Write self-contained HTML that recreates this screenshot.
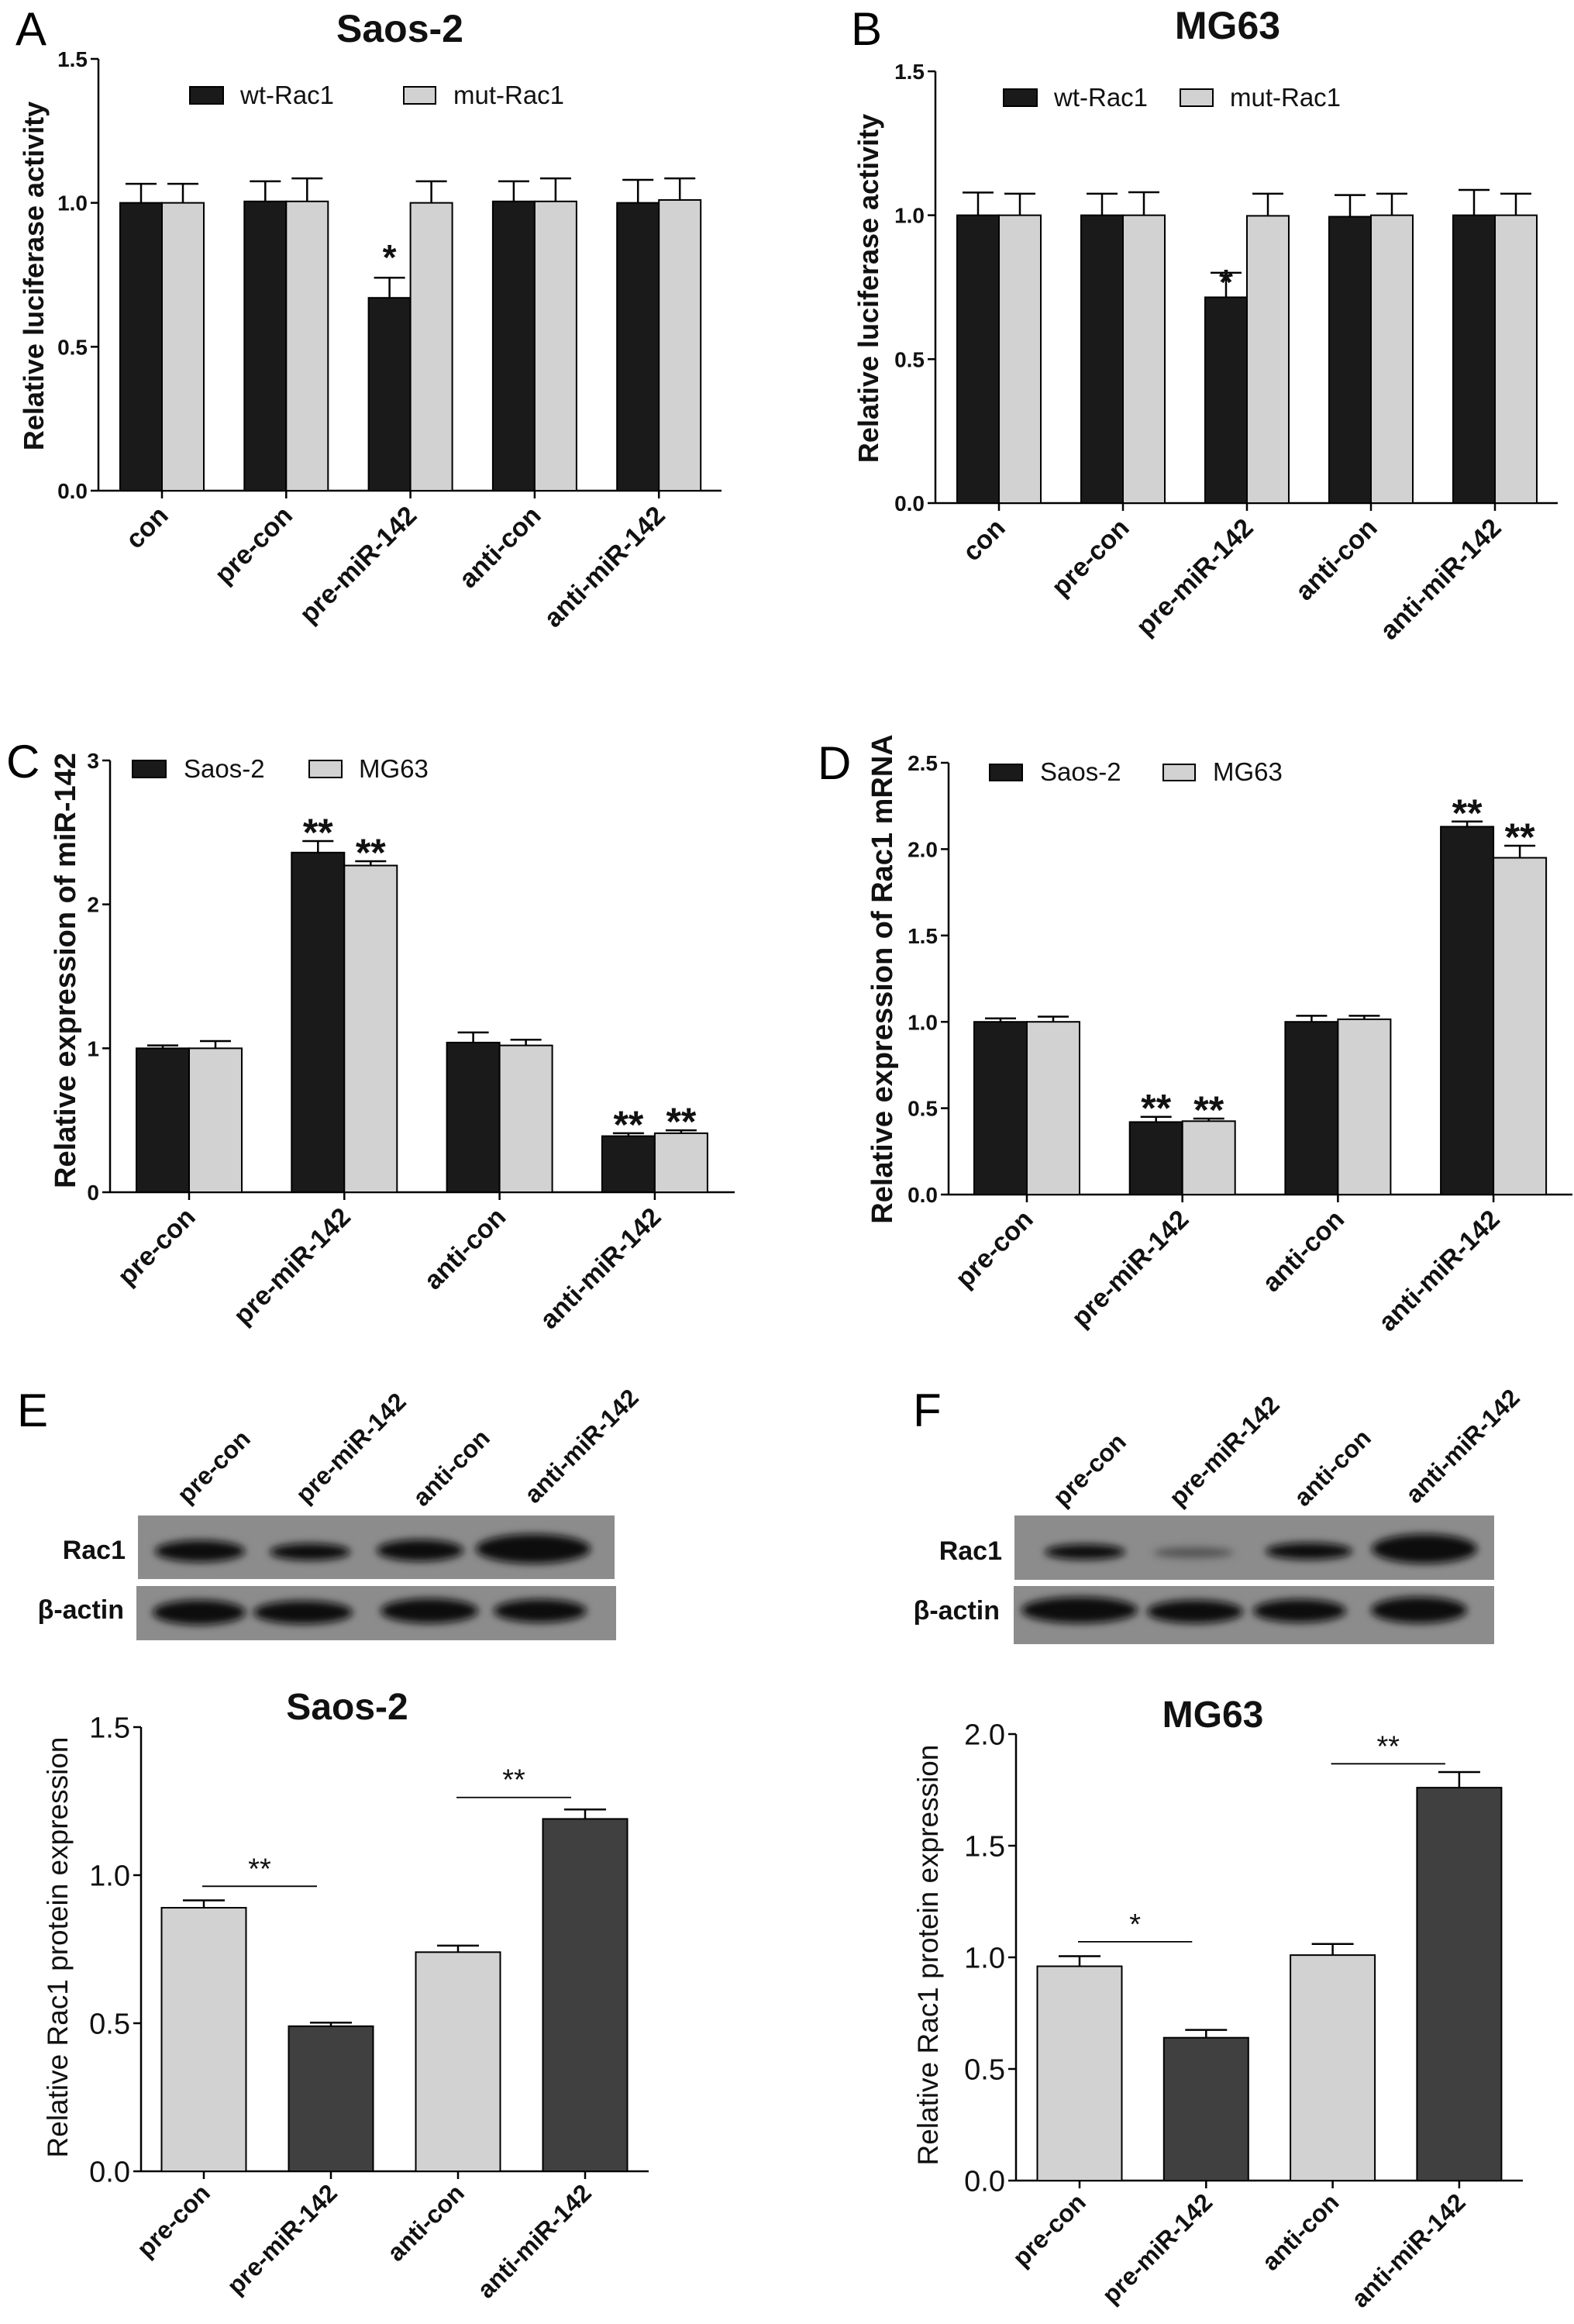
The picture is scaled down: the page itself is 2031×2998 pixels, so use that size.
<!DOCTYPE html>
<html><head><meta charset="utf-8"><style>
html,body{margin:0;padding:0;background:#fff;}
svg{display:block;}
text{font-family:"Liberation Sans",Arial,sans-serif;}
</style></head><body>
<svg id="fig" width="2031" height="2998" viewBox="0 0 2031 2998" xmlns="http://www.w3.org/2000/svg">
<defs><filter id="blur" x="-20%" y="-50%" width="140%" height="200%"><feGaussianBlur stdDeviation="5"/></filter></defs>
<g id="blots">
  <g>
    <rect x="178" y="1955" width="615" height="82" fill="#8c8c8c"/>
    <rect x="176" y="2046" width="619" height="70" fill="#8c8c8c"/>
    <g filter="url(#blur)" fill="#0a0a0a">
      <ellipse cx="258" cy="2001" rx="58" ry="14"/><ellipse cx="400" cy="2002" rx="52" ry="11"/><ellipse cx="542" cy="2000" rx="56" ry="14"/><ellipse cx="688" cy="1998" rx="74" ry="19"/>
      <ellipse cx="257" cy="2080" rx="60" ry="16"/><ellipse cx="391" cy="2080" rx="64" ry="15"/><ellipse cx="554" cy="2078" rx="63" ry="16"/><ellipse cx="697" cy="2078" rx="60" ry="15"/>
    </g>
  </g>
  <g>
    <rect x="1309" y="1955" width="619" height="83" fill="#8c8c8c"/>
    <rect x="1308" y="2046" width="620" height="75" fill="#8c8c8c"/>
    <g filter="url(#blur)" fill="#0a0a0a">
      <ellipse cx="1400" cy="2002" rx="52" ry="10"/><ellipse cx="1540" cy="2003" rx="52" ry="7" fill="#555"/><ellipse cx="1689" cy="2001" rx="56" ry="11"/><ellipse cx="1838" cy="1998" rx="68" ry="19"/>
      <ellipse cx="1393" cy="2077" rx="75" ry="17"/><ellipse cx="1542" cy="2079" rx="62" ry="15"/><ellipse cx="1677" cy="2078" rx="60" ry="15"/><ellipse cx="1831" cy="2077" rx="62" ry="17"/>
    </g>
  </g>
</g>
</svg>
<script>
// ---- data ----
const catsA = ["con","pre-con","pre-miR-142","anti-con","anti-miR-142"];
const wtA = [1.0, 1.005, 0.67, 1.005, 1.0];
const wtErrA = [1.066, 1.075, 0.74, 1.075, 1.08];
const mutA = [1.0, 1.005, 1.0, 1.005, 1.01];
const mutErrA = [1.066, 1.085, 1.075, 1.085, 1.085];
const starsA = ["", "", "*", "", ""];
const ticksA = [0, 0.5, 1.0, 1.5];
const tickLabelsA = ["0.0","0.5","1.0","1.5"];

const catsB = ["con","pre-con","pre-miR-142","anti-con","anti-miR-142"];
const wtB = [1.0, 1.0, 0.715, 0.995, 1.0];
const wtErrB = [1.079, 1.075, 0.80, 1.07, 1.088];
const mutB = [1.0, 1.0, 0.998, 1.0, 1.0];
const mutErrB = [1.075, 1.08, 1.075, 1.075, 1.075];
const starsB = ["", "", "*", "", ""];
const ticksB = [0, 0.5, 1.0, 1.5];
const tickLabelsB = ["0.0","0.5","1.0","1.5"];

const catsC = ["pre-con","pre-miR-142","anti-con","anti-miR-142"];
const saosC = [1.0, 2.36, 1.04, 0.39];
const saosErrC = [1.02, 2.44, 1.11, 0.41];
const mgC = [1.0, 2.27, 1.02, 0.41];
const mgErrC = [1.05, 2.30, 1.06, 0.43];
const starsSaosC = ["", "**", "", "**"];
const starsMgC = ["", "**", "", "**"];
const ticksC = [0, 1, 2, 3];
const tickLabelsC = ["0","1","2","3"];

const catsD = ["pre-con","pre-miR-142","anti-con","anti-miR-142"];
const saosD = [1.0, 0.42, 1.0, 2.13];
const saosErrD = [1.02, 0.45, 1.035, 2.16];
const mgD = [1.0, 0.425, 1.015, 1.95];
const mgErrD = [1.03, 0.44, 1.035, 2.02];
const starsSaosD = ["", "**", "", "**"];
const starsMgD = ["", "**", "", "**"];
const ticksD = [0, 0.5, 1.0, 1.5, 2.0, 2.5];
const tickLabelsD = ["0.0","0.5","1.0","1.5","2.0","2.5"];

const catsE = ["pre-con","pre-miR-142","anti-con","anti-miR-142"];
const valsE = [0.89, 0.49, 0.74, 1.19];
const errE = [0.915, 0.502, 0.762, 1.222];
const bracketsE = [[0, 1, 0.9625, "**"], [2, 3, 1.2625, "**"]];
const ticksE = [0, 0.5, 1.0, 1.5];
const tickLabelsE = ["0.0","0.5","1.0","1.5"];

const catsF = ["pre-con","pre-miR-142","anti-con","anti-miR-142"];
const valsF = [0.96, 0.64, 1.01, 1.76];
const errF = [1.005, 0.675, 1.06, 1.83];
const bracketsF = [[0, 1, 1.07, "*"], [2, 3, 1.867, "**"]];
const ticksF = [0, 0.5, 1.0, 1.5, 2.0];
const tickLabelsF = ["0.0","0.5","1.0","1.5","2.0"];

const laneLabels = ["pre-con","pre-miR-142","anti-con","anti-miR-142"];

// ---- helpers ----
const NS = "http://www.w3.org/2000/svg";
const svg = document.getElementById("fig");
function mk(tag, attrs, parent, txt) {
  const e = document.createElementNS(NS, tag);
  for (const k in attrs) e.setAttribute(k, attrs[k]);
  if (txt !== undefined) e.textContent = txt;
  (parent || svg).appendChild(e);
  return e;
}

function drawChart(c) {
  const g = mk("g", {});
  
  
  const yScale = v => c.y0 - (v / c.ymax) * (c.y0 - c.yTop);
  const xScale = i => c.c0 + i * c.step;
  const ya = mk("line", {x1: c.x0, y1: c.yTop, x2: c.x0, y2: c.y0 + 1, stroke: "#000", "stroke-width": 2.5}, g);
  
  
  const xa = mk("line", {x1: c.x0, y1: c.y0, x2: c.xEnd, y2: c.y0, stroke: "#000", "stroke-width": 2.5}, g);
  
  
  c.ticks.forEach((t, i) => {
    const y = yScale(t);
    mk("line", {x1: c.x0 - 10, y1: y, x2: c.x0, y2: y, stroke: "#000", "stroke-width": 2.5}, g);
    const tl = mk("text", {x: c.x0 - 14, y: y + c.tickFs * 0.36, "font-size": c.tickFs, "font-weight": c.tickBold ? "bold" : "normal", "text-anchor": "end", fill: "#111"}, g, c.tickLabels[i]);
    
    
  });
  const bw = c.bw;
  c.series.forEach((s, si) => {
    s.vals.forEach((v, i) => {
      let bx;
      if (c.series.length === 2) bx = si === 0 ? xScale(i) - bw : xScale(i);
      else bx = xScale(i) - bw / 2;
      const fill = s.colors ? s.colors[i % s.colors.length] : s.color;
      const cx = bx + bw / 2;
      const et = yScale(s.err[i]);
      mk("line", {x1: cx, y1: yScale(v), x2: cx, y2: et, stroke: "#000", "stroke-width": 2.5}, g);
      mk("line", {x1: cx - c.capW / 2, y1: et, x2: cx + c.capW / 2, y2: et, stroke: "#000", "stroke-width": 2.5}, g);
      const r = mk("rect", {x: bx, y: yScale(v), width: bw, height: c.y0 - yScale(v), fill: fill, stroke: "#000", "stroke-width": 2}, g);
      
      
      if (s.stars && s.stars[i]) {
        const st = mk("text", {x: cx, y: et + c.starDy, "font-size": c.starFs, "font-weight": "bold", "text-anchor": "middle", fill: "#111"}, g, s.stars[i]);
        
        
      }
    });
  });
  c.cats.forEach((cat, i) => {
    const x = xScale(i);
    mk("line", {x1: x, y1: c.y0, x2: x, y2: c.y0 + 10, stroke: "#000", "stroke-width": 2.5}, g);
    const lx = x + c.lblDx, ly = c.y0 + c.lblDy;
    const t = mk("text", {x: lx, y: ly, "font-size": c.lblFs, "font-weight": "bold", "text-anchor": "end", fill: "#111", transform: "rotate(-45 " + lx + " " + ly + ")"}, g, cat);
    
    
  });
  (c.brackets || []).forEach(b => {
    const y = yScale(b[2]);
    const x1 = xScale(b[0]) - 2, x2 = xScale(b[1]) - 18;
    const l = mk("line", {x1: x1, y1: y, x2: x2, y2: y, stroke: "#000", "stroke-width": 1.8}, g);
    
    
    const bt = mk("text", {x: (x1 + x2) / 2, y: y - 10, "font-size": 38, "text-anchor": "middle", fill: "#111"}, g, b[3]);
    
    
  });
  const yt = mk("text", {x: c.ytX, y: c.ytY, "font-size": c.ytFs, "font-weight": c.ytBold ? "bold" : "normal", "text-anchor": "middle", fill: "#111", transform: "rotate(-90 " + c.ytX + " " + c.ytY + ")"}, g, c.ytitle);
  
  
  if (c.title) {
    const tt = mk("text", {x: c.titleX, y: c.titleY, "font-size": c.titleFs, "font-weight": "bold", "text-anchor": "middle", fill: "#111"}, g, c.title);
    
    
  }
  (c.legend || []).forEach(L => {
    const lr = mk("rect", {x: L.x, y: L.y, width: L.w, height: L.h, fill: L.color, stroke: "#000", "stroke-width": 2}, g);
    
    
    const lt = mk("text", {x: L.tx, y: L.y + L.h, "font-size": L.fs, fill: "#111"}, g, L.label);
    
    
  });
  const pl = mk("text", {x: c.letterX, y: c.letterY, "font-size": 60, fill: "#000"}, g, c.letter);
  
  
}

const BLACK = "#1a1a1a", LIGHT = "#d2d2d2", DARK = "#404040";

drawChart({name: "chart-a", letter: "A", letterX: 20, letterY: 58, x0: 127, xEnd: 931, y0: 633, yTop: 76, ymax: 1.5,
  ticks: ticksA, tickLabels: tickLabelsA, tickFs: 28, tickBold: true, cats: catsA, c0: 209, step: 160.3, bw: 54, capW: 40,
  series: [{key: "wt", vals: wtA, err: wtErrA, color: BLACK, stars: starsA}, {key: "mut", vals: mutA, err: mutErrA, color: LIGHT}],
  starFs: 46, starDy: -10, lblFs: 34, lblDx: 10, lblDy: 34,
  ytitle: "Relative luciferase activity", ytX: 56, ytY: 356, ytFs: 36, ytBold: true,
  title: "Saos-2", titleX: 516, titleY: 54, titleFs: 50,
  legend: [{x: 245, y: 112, w: 43, h: 22, color: BLACK, tx: 310, label: "wt-Rac1", fs: 33}, {x: 521, y: 112, w: 41, h: 22, color: LIGHT, tx: 585, label: "mut-Rac1", fs: 33}]});

drawChart({name: "chart-b", letter: "B", letterX: 1098, letterY: 58, x0: 1207, xEnd: 2010, y0: 649, yTop: 92, ymax: 1.5,
  ticks: ticksB, tickLabels: tickLabelsB, tickFs: 28, tickBold: true, cats: catsB, c0: 1289, step: 160, bw: 54, capW: 40,
  series: [{key: "wt", vals: wtB, err: wtErrB, color: BLACK, stars: starsB}, {key: "mut", vals: mutB, err: mutErrB, color: LIGHT}],
  starFs: 46, starDy: 28, lblFs: 34, lblDx: 10, lblDy: 34,
  ytitle: "Relative luciferase activity", ytX: 1133, ytY: 372, ytFs: 36, ytBold: true,
  title: "MG63", titleX: 1584, titleY: 50, titleFs: 50,
  legend: [{x: 1295, y: 115, w: 43, h: 22, color: BLACK, tx: 1360, label: "wt-Rac1", fs: 33}, {x: 1523, y: 115, w: 42, h: 22, color: LIGHT, tx: 1587, label: "mut-Rac1", fs: 33}]});

drawChart({name: "chart-c", letter: "C", letterX: 8, letterY: 1003, x0: 142, xEnd: 948, y0: 1538, yTop: 981, ymax: 3,
  ticks: ticksC, tickLabels: tickLabelsC, tickFs: 28, tickBold: true, cats: catsC, c0: 244, step: 200.3, bw: 68, capW: 40,
  series: [{key: "saos", vals: saosC, err: saosErrC, color: BLACK, stars: starsSaosC}, {key: "mg63", vals: mgC, err: mgErrC, color: LIGHT, stars: starsMgC}],
  starFs: 50, starDy: 6, lblFs: 34, lblDx: 10, lblDy: 34,
  ytitle: "Relative expression of miR-142", ytX: 97, ytY: 1252, ytFs: 38, ytBold: true,
  legend: [{x: 171, y: 981, w: 43, h: 22, color: BLACK, tx: 237, label: "Saos-2", fs: 33}, {x: 399, y: 981, w: 42, h: 22, color: LIGHT, tx: 463, label: "MG63", fs: 33}]});

drawChart({name: "chart-d", letter: "D", letterX: 1055, letterY: 1005, x0: 1224, xEnd: 2029, y0: 1541, yTop: 984, ymax: 2.5,
  ticks: ticksD, tickLabels: tickLabelsD, tickFs: 28, tickBold: true, cats: catsD, c0: 1325, step: 200.7, bw: 68, capW: 40,
  series: [{key: "saos", vals: saosD, err: saosErrD, color: BLACK, stars: starsSaosD}, {key: "mg63", vals: mgD, err: mgErrD, color: LIGHT, stars: starsMgD}],
  starFs: 50, starDy: 6, lblFs: 34, lblDx: 10, lblDy: 34,
  ytitle: "Relative expression of Rac1 mRNA", ytX: 1151, ytY: 1263, ytFs: 38, ytBold: true,
  legend: [{x: 1277, y: 986, w: 42, h: 21, color: BLACK, tx: 1342, label: "Saos-2", fs: 33}, {x: 1501, y: 986, w: 41, h: 21, color: LIGHT, tx: 1565, label: "MG63", fs: 33}]});

drawChart({name: "chart-e", letter: "E", letterX: 22, letterY: 1840, x0: 182, xEnd: 837, y0: 2801, yTop: 2228, ymax: 1.5,
  ticks: ticksE, tickLabels: tickLabelsE, tickFs: 38, tickBold: false, cats: catsE, c0: 263, step: 164, bw: 109, capW: 54,
  series: [{key: "rac1", vals: valsE, err: errE, colors: [LIGHT, DARK]}],
  brackets: bracketsE, starFs: 34, starDy: -8, lblFs: 32, lblDx: 10, lblDy: 30,
  ytitle: "Relative  Rac1 protein expression", ytX: 87, ytY: 2512, ytFs: 37, ytBold: false,
  title: "Saos-2", titleX: 448, titleY: 2218, titleFs: 48});

drawChart({name: "chart-f", letter: "F", letterX: 1178, letterY: 1840, x0: 1311, xEnd: 1965, y0: 2813, yTop: 2237, ymax: 2.0,
  ticks: ticksF, tickLabels: tickLabelsF, tickFs: 38, tickBold: false, cats: catsF, c0: 1393, step: 163.3, bw: 109, capW: 54,
  series: [{key: "rac1", vals: valsF, err: errF, colors: [LIGHT, DARK]}],
  brackets: bracketsF, starFs: 34, starDy: -8, lblFs: 32, lblDx: 10, lblDy: 30,
  ytitle: "Relative  Rac1 protein expression", ytX: 1210, ytY: 2522, ytFs: 37, ytBold: false,
  title: "MG63", titleX: 1565, titleY: 2228, titleFs: 48});

const laneE = [[242,1941],[395,1941],[546,1945],[690,1941]];
const laneF = [[1372,1945],[1522,1945],[1683,1945],[1827,1941]];
[[laneE, "e"], [laneF, "f"]].forEach(([pts, k]) => {
  pts.forEach((p, i) => {
    const t = mk("text", {x: p[0], y: p[1], "font-size": 32, "font-weight": "bold", fill: "#111", transform: "rotate(-45 " + p[0] + " " + p[1] + ")"}, svg, laneLabels[i]);
    
    
  });
});
[[162, 2011, "Rac1"], [160, 2088, "β-actin"], [1293, 2012, "Rac1"], [1290, 2089, "β-actin"]].forEach(r => {
  const t = mk("text", {x: r[0], y: r[1], "font-size": 34, "font-weight": "bold", "text-anchor": "end", fill: "#111"}, svg, r[2]);
  
  
});
</script>
</body></html>
